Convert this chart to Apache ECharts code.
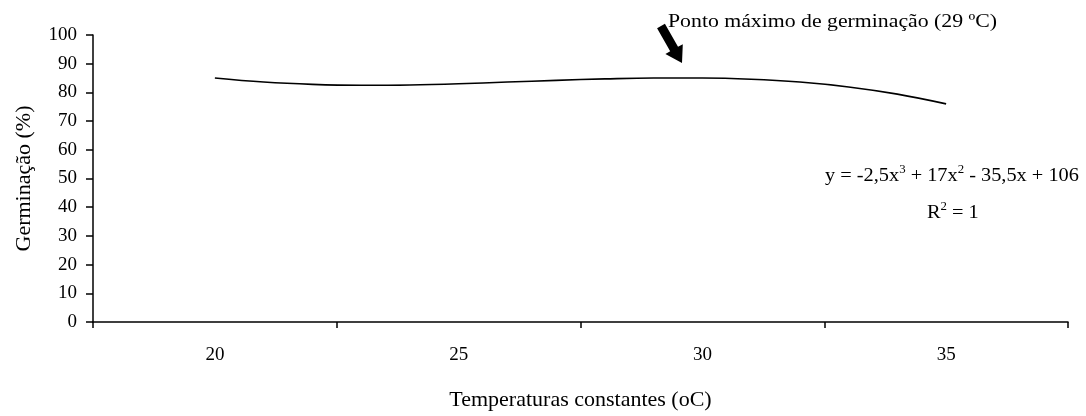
<!DOCTYPE html>
<html>
<head>
<meta charset="utf-8">
<script src="https://cdn.jsdelivr.net/npm/echarts@6/dist/echarts.min.js"></script>
<style>
html,body{margin:0;padding:0;background:#fff;}
#c{width:1086px;height:416px;}
</style>
</head>
<body>
<div id="c"></div>
<script>
// Category tick labels on the x axis
const categories = ['20', '25', '30', '35'];
const curveTemps = [20, 21, 22, 23, 24, 25, 26, 27, 28, 29, 30, 31, 32, 33, 34, 35];
// Germination (%)
const curveGerm = [85, 83.6, 82.8, 82.5, 82.6, 83, 83.6, 84.2, 84.7, 85, 85, 84.6, 83.6, 81.9, 79.4, 76];
const yTicks = { min: 0, max: 100, interval: 10 };

const FONT = '"Liberation Serif", "Times New Roman", serif';
const chart = echarts.init(document.getElementById('c'), null, { renderer: 'canvas' });

// arrow annotation geometry
function arrowPoints(x0, y0, x1, y1, shaftW, headW, headL) {
  const dx = x1 - x0, dy = y1 - y0, L = Math.hypot(dx, dy);
  const ux = dx / L, uy = dy / L, px = -uy, py = ux;
  const bx = x1 - ux * headL, by = y1 - uy * headL;
  return [
    [x0 + px * shaftW / 2, y0 + py * shaftW / 2],
    [bx + px * shaftW / 2, by + py * shaftW / 2],
    [bx + px * headW / 2, by + py * headW / 2],
    [x1, y1],
    [bx - px * headW / 2, by - py * headW / 2],
    [bx - px * shaftW / 2, by - py * shaftW / 2],
    [x0 - px * shaftW / 2, y0 - py * shaftW / 2]
  ];
}

const supRich = {
  n: { fontFamily: FONT, fontSize: 19, lineHeight: 22, verticalAlign: 'bottom' },
  s: { fontFamily: FONT, fontSize: 12, lineHeight: 22, verticalAlign: 'top', padding: [0, 0, 9, 0] }
};

const option = {
  backgroundColor: '#ffffff',
  animation: false,
  grid: { left: 93, right: 18, top: 35, bottom: 82 },
  xAxis: [
    {
      type: 'category',
      data: categories,
      boundaryGap: true,
      name: 'Temperaturas constantes (oC)',
      nameLocation: 'middle',
      nameGap: 67,
      nameTextStyle: { fontFamily: FONT, fontSize: 22, color: '#000' },
      axisLine: { lineStyle: { color: '#000', width: 1.5 } },
      axisTick: { show: true, inside: false, length: 6, alignWithLabel: false, lineStyle: { color: '#000', width: 1.5 } },
      axisLabel: { fontFamily: FONT, fontSize: 19, color: '#000', margin: 24 },
      splitLine: { show: false }
    },
    {
      type: 'value',
      min: 17.5,
      max: 37.5,
      show: false,
      splitLine: { show: false }
    }
  ],
  yAxis: {
    type: 'value',
    min: yTicks.min,
    max: yTicks.max,
    interval: yTicks.interval,
    name: 'Germinação (%)',
    nameLocation: 'middle',
    nameGap: 58,
    nameTextStyle: { fontFamily: FONT, fontSize: 22, color: '#000' },
    axisLine: { show: true, lineStyle: { color: '#000', width: 1.5 } },
    axisTick: { show: true, inside: false, length: 7, lineStyle: { color: '#000', width: 1.5 } },
    axisLabel: { fontFamily: FONT, fontSize: 19, color: '#000', margin: 16 },
    splitLine: { show: false }
  },
  series: [
    {
      type: 'line',
      xAxisIndex: 1,
      data: curveTemps.map((t, i) => [t, curveGerm[i]]),
      smooth: 0.4,
      symbol: 'none',
      lineStyle: { color: '#000', width: 1.6 }
    }
  ],
  graphic: [
    {
      type: 'polygon',
      shape: { points: arrowPoints(661, 26, 682, 63, 9, 20, 16) },
      style: { fill: '#000' }
    },
    {
      type: 'text',
      x: 668,
      y: 22,
      scaleX: 1.146,
      style: { text: 'Ponto máximo de germinação (29 ºC)', font: '19px ' + FONT, fill: '#000', textAlign: 'left', textVerticalAlign: 'middle' }
    },
    {
      type: 'text',
      x: 825,
      y: 164,
      scaleX: 1.07,
      style: {
        text: '{n|y = -2,5x}{s|3}{n| + 17x}{s|2}{n| - 35,5x + 106}',
        fill: '#000',
        rich: supRich
      }
    },
    {
      type: 'text',
      x: 927,
      y: 201,
      scaleX: 1.07,
      style: {
        text: '{n|R}{s|2}{n| = 1}',
        fill: '#000',
        rich: supRich
      }
    }
  ]
};
chart.setOption(option);
</script>
</body>
</html>
